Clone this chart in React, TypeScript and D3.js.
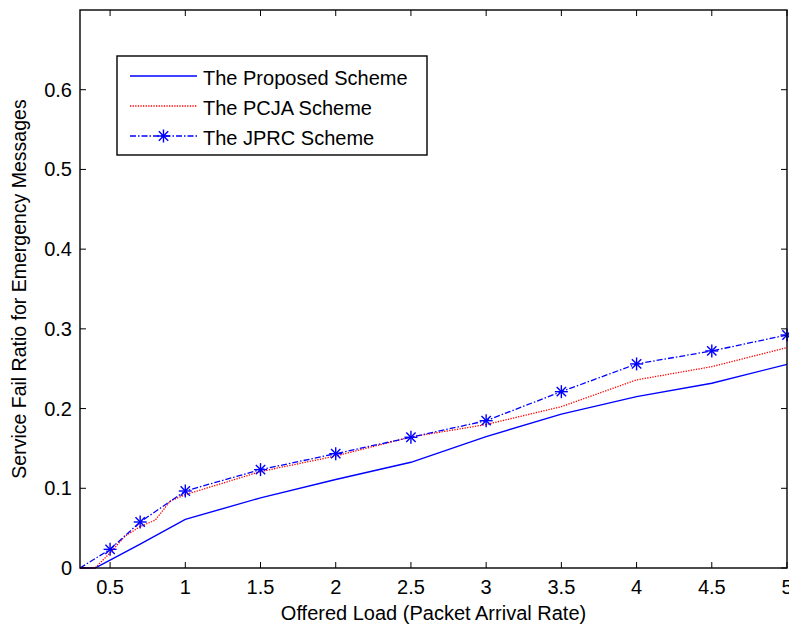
import React from "react";
import * as d3 from "d3";

const proposedX = [0.3, 0.4, 0.5, 0.7, 1, 1.5, 2, 2.5, 3, 3.5, 4, 4.5, 5];
const proposedY = [0, 0, 0.01, 0.03, 0.061, 0.088, 0.111, 0.1326, 0.1648, 0.193, 0.215, 0.2317, 0.2555];

const pcjaX = [0.3, 0.4, 0.5, 0.6, 0.7, 0.8, 0.9, 1, 1.5, 2, 2.5, 3, 3.5, 4, 4.5, 5];
const pcjaY = [0, 0, 0.019, 0.04, 0.052, 0.06, 0.084, 0.092, 0.121, 0.1405, 0.1644, 0.18, 0.2024, 0.236, 0.2526, 0.2765];

const jprcX = [0.3, 0.5, 0.7, 1, 1.5, 2, 2.5, 3, 3.5, 4, 4.5, 5];
const jprcY = [0, 0.0234, 0.0577, 0.0966, 0.1234, 0.1434, 0.164, 0.1848, 0.2212, 0.256, 0.2723, 0.2923];
const jprcMarkerX = [0.5, 0.7, 1, 1.5, 2, 2.5, 3, 3.5, 4, 4.5, 5];

const xTicks = [0.5, 1, 1.5, 2, 2.5, 3, 3.5, 4, 4.5, 5];
const xTickLabels = ["0.5", "1", "1.5", "2", "2.5", "3", "3.5", "4", "4.5", "5"];
const yTicks = [0, 0.1, 0.2, 0.3, 0.4, 0.5, 0.6];
const yTickLabels = ["0", "0.1", "0.2", "0.3", "0.4", "0.5", "0.6"];

const legendLabels = ["The Proposed Scheme", "The PCJA Scheme", "The JPRC Scheme"];

const L = 80, R = 787, T = 10, B = 568;
const FONT = "'Liberation Sans', Arial, sans-serif";

function Star({ cx, cy, r = 6.5 }: { cx: number; cy: number; r?: number }) {
  const d = r * 0.72;
  return (
    <g stroke="#0000ff" strokeWidth={1.4}>
      <line x1={cx - r} y1={cy} x2={cx + r} y2={cy} />
      <line x1={cx} y1={cy - r} x2={cx} y2={cy + r} />
      <line x1={cx - d} y1={cy - d} x2={cx + d} y2={cy + d} />
      <line x1={cx - d} y1={cy + d} x2={cx + d} y2={cy - d} />
    </g>
  );
}

export default function App() {
  const x = d3.scaleLinear().domain([0.3, 5]).range([L, R]);
  const y = d3.scaleLinear().domain([0, 0.7]).range([B, T]);
  const line = (xs: number[], ys: number[]) =>
    d3.line<number>().x((_, i) => x(xs[i])).y((v) => y(v))(ys) || "";

  const jprcMarkers = jprcMarkerX.map((xv) => {
    const i = jprcX.indexOf(xv);
    return { x: xv, y: jprcY[i] };
  });

  return (
    <svg width={789} height={626} style={{ position: "absolute", left: 0, top: 0, background: "#fff" }} fontFamily={FONT}>
      <rect x={0} y={0} width={789} height={626} fill="#fff" />
      {/* ticks */}
      <g stroke="#000" strokeWidth={1}>
        {xTicks.map((t) => (
          <g key={"xt" + t}>
            <line x1={x(t)} x2={x(t)} y1={B} y2={B - 6} />
            <line x1={x(t)} x2={x(t)} y1={T} y2={T + 6} />
          </g>
        ))}
        {yTicks.map((t) => (
          <g key={"yt" + t}>
            <line x1={L} x2={L + 6} y1={y(t)} y2={y(t)} />
            <line x1={R} x2={R - 6} y1={y(t)} y2={y(t)} />
          </g>
        ))}
      </g>
      {/* data lines */}
      <path d={line(proposedX, proposedY)} fill="none" stroke="#0000ff" strokeWidth={1.4} />
      <path d={line(pcjaX, pcjaY)} fill="none" stroke="#ff0000" strokeWidth={1.3} strokeDasharray="1.3 1.3" />
      <path d={line(jprcX, jprcY)} fill="none" stroke="#0000ff" strokeWidth={1.3} strokeDasharray="6 2 1.5 2" />
      {jprcMarkers.map((m, i) => (
        <Star key={i} cx={x(m.x)} cy={y(m.y)} />
      ))}
      {/* frame */}
      <rect x={L} y={T} width={R - L} height={B - T} fill="none" stroke="#000" strokeWidth={1.4} />
      {/* tick labels */}
      <g fontSize={20} fill="#000">
        {xTicks.map((t, i) => (
          <text key={"xl" + t} x={x(t)} y={B + 26} textAnchor="middle">{xTickLabels[i]}</text>
        ))}
        {yTicks.map((t, i) => (
          <text key={"yl" + t} x={L - 8} y={y(t) + 7} textAnchor="end">{yTickLabels[i]}</text>
        ))}
      </g>
      {/* axis titles */}
      <text x={(L + R) / 2} y={620} textAnchor="middle" fontSize={20} fill="#000">Offered Load (Packet Arrival Rate)</text>
      <text transform={`translate(26,${(T + B) / 2}) rotate(-90)`} textAnchor="middle" fontSize={19.5} fill="#000">
        Service Fail Ratio for Emergency Messages
      </text>
      {/* legend */}
      <g>
        <rect x={117} y={56} width={310} height={99} fill="#fff" stroke="#000" strokeWidth={1.4} />
        <line x1={130} x2={197} y1={76} y2={76} stroke="#0000ff" strokeWidth={1.4} />
        <line x1={130} x2={197} y1={106} y2={106} stroke="#ff0000" strokeWidth={1.3} strokeDasharray="1.3 1.3" />
        <line x1={130} x2={197} y1={136} y2={136} stroke="#0000ff" strokeWidth={1.3} strokeDasharray="6 2 1.5 2" />
        <Star cx={163.5} cy={136} />
        {legendLabels.map((lab, i) => (
          <text key={lab} x={203} y={76 + i * 30 + 8.5} fontSize={20} fill="#000">{lab}</text>
        ))}
      </g>
    </svg>
  );
}
